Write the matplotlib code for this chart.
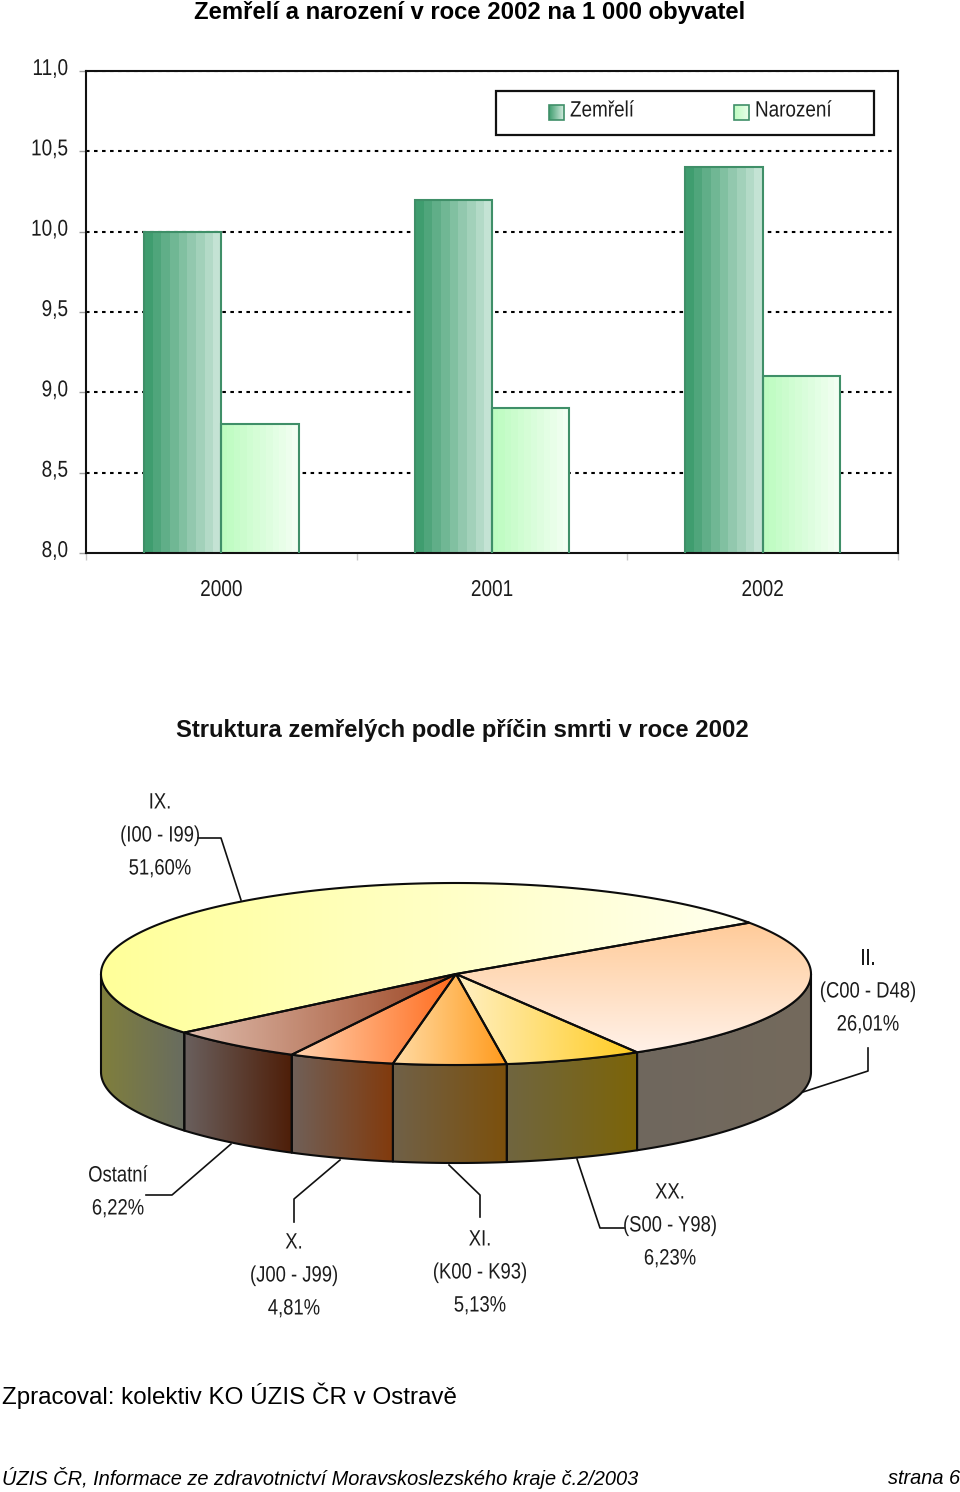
"""
Deaths and births per 1000 inhabitants + causes of death 3D pie.
"""
import numpy as np
import matplotlib
matplotlib.use('Agg')
import matplotlib.pyplot as plt
from matplotlib.colors import LinearSegmentedColormap
from matplotlib.patches import Polygon, Rectangle
from matplotlib.patheffects import AbstractPathEffect
from matplotlib.transforms import Affine2D

W, H = 960, 1492
WIDE = ['Liberation Sans', 'DejaVu Sans']

# bar chart data
years = ['2000', '2001', '2002']
zemreli = [10.0, 10.2, 10.4]
narozeni = [8.8, 8.9, 9.1]
y_ticks = [8.0, 8.5, 9.0, 9.5, 10.0, 10.5, 11.0]
y_labels = ['8,0', '8,5', '9,0', '9,5', '10,0', '10,5', '11,0']

# pie data, counter-clockwise from the start angle
pie_names = ['IX.', 'Ostatní', 'X.', 'XI.', 'XX.', 'II.']
pie_shares = [51.60, 6.22, 4.81, 5.13, 6.23, 26.01]
pie_top_colors = [('#ffff99', '#ffffee'), ('#dfbdae', '#9c4522'), ('#ffd3ae', '#ff6a1c'),
                  ('#ffdca6', '#ff9a1c'), ('#fff0c4', '#ffcb1e'), ('#ffcb99', '#fff1e8')]
pie_side_colors = [('#807f3c', '#686c60'), ('#6a605e', '#4e1e08'), ('#706058', '#823a0c'),
                   ('#706148', '#7c500c'), ('#706640', '#7c6408'), ('#6f675e', '#746a5c')]
start_angle = 34.3
cx, cy, rx, ry, depth = 456, 974, 355, 91, 98

fig = plt.figure(figsize=(W / 100, H / 100), dpi=100)


class Squeeze(AbstractPathEffect):
    # the reference text is horizontally condensed, no narrow font is installed
    def __init__(self, anchor_x, sx=0.83, dy=0):
        super().__init__()
        self.tr = Affine2D().translate(-anchor_x, 0).scale(sx, 1).translate(anchor_x, dy)

    def draw_path(self, renderer, gc, tpath, affine, rgbFace=None):
        renderer.draw_path(gc, tpath, affine + self.tr, rgbFace)


def grad(ax, patch, c0, c1, steps=256, vertical=False, zorder=2):
    # paint a gradient image and clip it to the patch
    cmap = LinearSegmentedColormap.from_list('g', [c0, c1], N=steps)
    data = np.linspace(0, 1, steps).reshape(-1, 1) if vertical else np.linspace(0, 1, steps).reshape(1, -1)
    x0, y0, x1, y1 = patch.get_extents().transformed(ax.transData.inverted()).extents
    im = ax.imshow(data, cmap=cmap, extent=(x0, x1, y0, y1), aspect='auto',
                   interpolation='nearest', zorder=zorder, origin='lower')
    im.set_clip_path(patch)
    return im


# ---- bars
ax = fig.add_axes([86 / W, 1 - 553 / H, 812 / W, 482 / H])
ax.set_xlim(0, 3)
ax.set_ylim(8, 11)
ax.set_yticks(y_ticks)
ax.set_yticklabels(y_labels, family=WIDE, fontsize=16.5, color='#1c1c1c')
ax.tick_params(axis='y', length=5, width=1, color='#a0a0a0', pad=8)
ax.set_xticks([0.5, 1.5, 2.5])
ax.set_xticklabels(years, family=WIDE, fontsize=16.5, color='#1c1c1c')
ax.set_xticks([0, 1, 2, 3], minor=True)
ax.tick_params(axis='x', which='major', length=0, pad=18)
ax.tick_params(axis='x', which='minor', length=5, width=1, color='#c8c8c8')
for lab in ax.get_yticklabels():
    lab.set_path_effects([Squeeze(68, dy=5)])
for lab, x_px in zip(ax.get_xticklabels(), [221, 492, 762]):
    lab.set_path_effects([Squeeze(x_px)])
for s in ax.spines.values():
    s.set_linewidth(1.5)
    s.set_color('#111111')
for v in y_ticks[1:]:
    ax.plot([0, 2.985], [v, v], color='black', lw=1.5, dashes=(1.7, 2.15), zorder=1)

pos = np.arange(len(years)) + 0.5
bar_w = 0.2855
edge = '#3f8f68'
b1 = ax.bar(pos - bar_w / 2, zemreli, bar_w, bottom=0, facecolor='none', edgecolor=edge, lw=1.5, zorder=3)
b2 = ax.bar(pos + bar_w / 2, narozeni, bar_w, bottom=0, facecolor='none', edgecolor=edge, lw=1.5, zorder=3)
fig.canvas.draw()
for r in b1:
    x0, x1 = r.get_x(), r.get_x() + r.get_width()
    im = grad(ax, r, '#3f9d6f', '#c4e3d4', steps=9)
    im.set_extent((x0, x1, 8, r.get_height()))
for r in b2:
    x0, x1 = r.get_x(), r.get_x() + r.get_width()
    im = grad(ax, r, '#bdfcc0', '#f2fff2', steps=12)
    im.set_extent((x0, x1, 8, r.get_height()))
ax.set_xlim(0, 3)
ax.set_ylim(8, 11)

# ---- overlay in pixel coordinates: titles, legend, pie, footer
ov = fig.add_axes([0, 0, 1, 1], zorder=5)
ov.patch.set_alpha(0)
ov.axis('off')
ov.set_xlim(0, W)
ov.set_ylim(H, 0)

ov.text(470, 12, 'Zemřelí a narození v roce 2002 na 1 000 obyvatel', family=WIDE, weight='bold',
        fontsize=17.2, ha='center', va='center', color='black')
ov.text(462.5, 731, 'Struktura zemřelých podle příčin smrti v roce 2002', family=WIDE, weight='bold',
        fontsize=17.2, ha='center', va='center', color='#111111')

# legend
ov.add_patch(Rectangle((496, 91), 378, 44, fc='white', ec='#111111', lw=1.6, zorder=3))
for x, c0, c1, name in [(549, '#3f9d6f', '#d4ecdf', 'Zemřelí'), (734, '#bdfcc0', '#eaffea', 'Narození')]:
    sw = Rectangle((x, 105), 15, 15, fc='none', ec=edge, lw=1.2, zorder=5)
    ov.add_patch(sw)
    fig.canvas.draw()
    im = grad(ov, sw, c0, c1, zorder=4)
    im.set_extent((x, x + 15, 105, 120))
    ov.text(x + 21, 110, name, family=WIDE, fontsize=16, ha='left', va='center', color='#1c1c1c', zorder=6,
            path_effects=[Squeeze(x + 21, sx=0.85, dy=-1)])
ov.set_xlim(0, W)
ov.set_ylim(H, 0)

# leader lines go under the pie
leaders = [[(198, 838), (221, 838), (241, 900)], [(868, 1048), (868, 1071), (803, 1092)],
           [(146, 1195), (172, 1195), (231, 1144)], [(294, 1222), (294, 1199), (340, 1160)],
           [(480, 1217), (480, 1195), (449, 1165)], [(624, 1228), (600, 1228), (577, 1159)]]
for pts in leaders:
    ov.plot([p[0] for p in pts], [p[1] for p in pts], color='#111111', lw=1.2, zorder=1)


def arc(a0, a1, dy=0):
    t = np.radians(np.linspace(a0, a1, max(int(abs(a1 - a0)) * 2, 2)))
    return np.column_stack([cx + rx * np.cos(t), cy - ry * np.sin(t) + dy])


shares = np.array(pie_shares)
edges = start_angle + np.concatenate([[0], np.cumsum(shares)]) * 3.6
fig.canvas.draw()
for i in range(len(shares)):
    a0, a1 = edges[i], edges[i + 1]
    # side wall only on the front half of the ellipse
    s0, s1 = max(a0, 180), min(a1, 360)
    if s1 > s0:
        top = arc(s0, s1)
        pts = np.vstack([top, arc(s1, s0, depth)])
        xs, ys = pts[:, 0], pts[:, 1]
        side = Polygon(pts, closed=True, fc='none', ec='#0c0c0c', lw=1.5, joinstyle='round', zorder=3)
        ov.add_patch(side)
        im = grad(ov, side, pie_side_colors[i][0], pie_side_colors[i][1], zorder=2)
        im.set_extent((xs.min(), xs.max(), ys.max(), ys.min()))
for i in range(len(shares)):
    a0, a1 = edges[i], edges[i + 1]
    pts = np.vstack([[cx, cy], arc(a0, a1)])
    xs, ys = pts[:, 0], pts[:, 1]
    wedge = Polygon(pts, closed=True, fc='none', ec='#0c0c0c', lw=1.5, joinstyle='round', zorder=5)
    ov.add_patch(wedge)
    vertical = pie_names[i] == 'II.'
    im = grad(ov, wedge, pie_top_colors[i][0], pie_top_colors[i][1], vertical=vertical, zorder=4)
    if vertical:
        im.set_extent((xs.min(), xs.max(), ys.min(), ys.max()))
    else:
        im.set_extent((xs.min(), xs.max(), ys.max(), ys.min()))
ov.set_xlim(0, W)
ov.set_ylim(H, 0)

# pie labels
pie_labels = [(160, 801, 'IX.\n(I00 - I99)\n51,60%'), (868, 957, 'II.\n(C00 - D48)\n26,01%'),
              (118, 1174, 'Ostatní\n6,22%'), (294, 1241, 'X.\n(J00 - J99)\n4,81%'),
              (480, 1238, 'XI.\n(K00 - K93)\n5,13%'), (670, 1191, 'XX.\n(S00 - Y98)\n6,23%')]
for x, y, txt in pie_labels:
    for k, line in enumerate(txt.split('\n')):
        ov.text(x, y + k * 33, line, family=WIDE, fontsize=16, ha='center', va='center', color='#1c1c1c',
                path_effects=[Squeeze(x, dy=-2)])

# footer
ov.text(2, 1396, 'Zpracoval: kolektiv KO ÚZIS ČR v Ostravě', family=WIDE, fontsize=17.4, ha='left', va='center', color='black')
ov.text(2, 1478, 'ÚZIS ČR, Informace ze zdravotnictví Moravskoslezského kraje č.2/2003', family=WIDE, style='italic',
        fontsize=14.4, ha='left', va='center', color='black')
ov.text(960, 1478, 'strana 6', family=WIDE, style='italic', fontsize=14.4, ha='right', va='center', color='black')

fig.savefig('out.png', dpi=100)
